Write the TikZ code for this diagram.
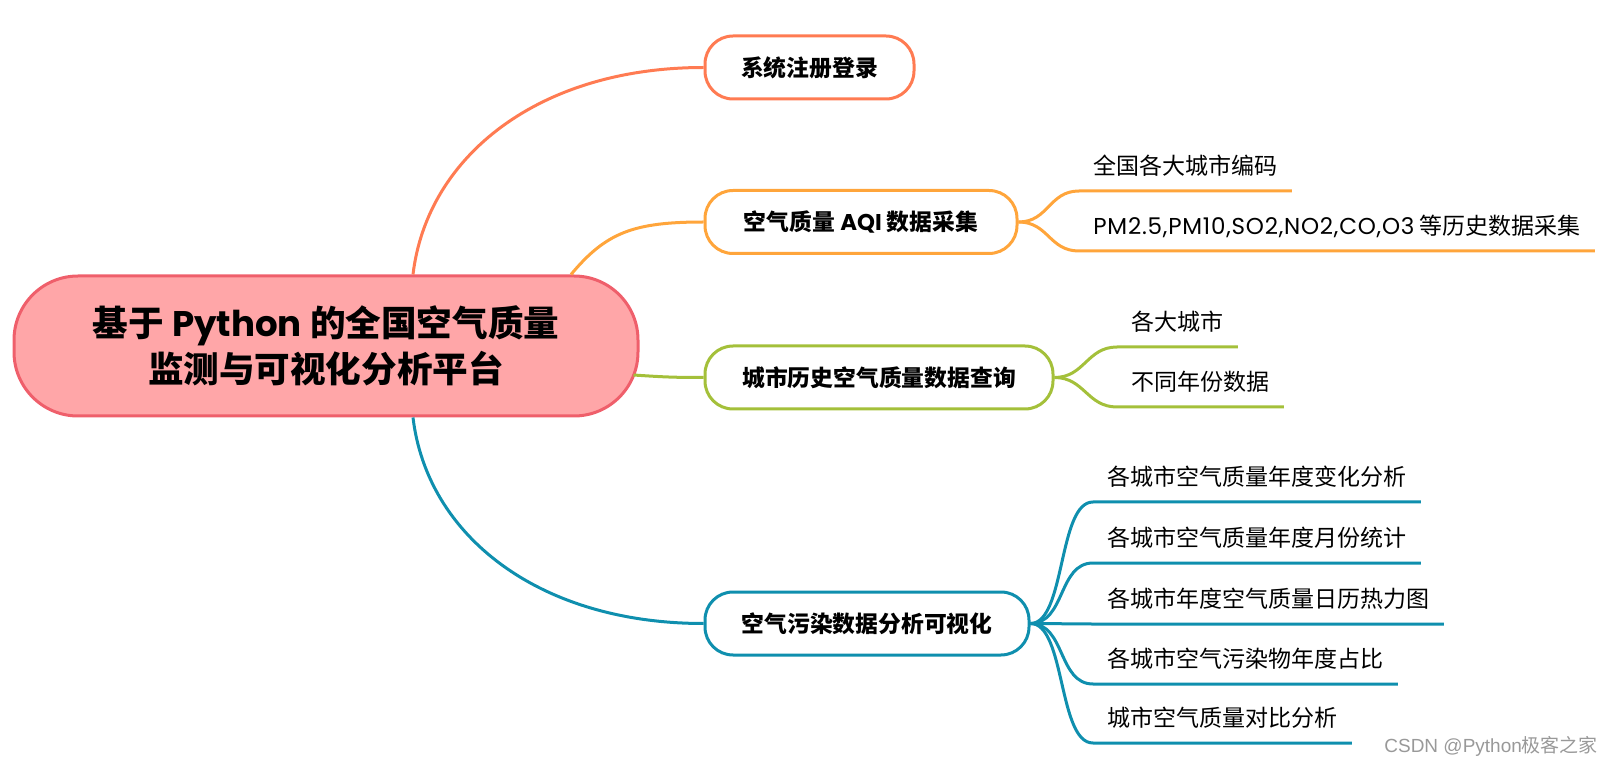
\documentclass[tikz,border=0pt]{standalone}
\usepackage{fontspec}
\setmainfont{Noto Sans CJK SC}
\newfontfamily\marklatin{Liberation Sans}
\newfontfamily\latin{Poppins}
\newfontfamily\latinwide[LetterSpace=3.4]{Poppins}
\usetikzlibrary{calc}
\definecolor{RootFill}{HTML}{FFA6A8}
\definecolor{RootLine}{HTML}{EF5F6B}
\definecolor{LoginOrange}{HTML}{FF7B52}
\definecolor{AqiOrange}{HTML}{FFA53B}
\definecolor{QueryGreen}{HTML}{A4C03A}
\definecolor{VisTeal}{HTML}{0F8FAE}

\begin{document}
\begin{tikzpicture}[x=0.5pt,y=-0.5pt,
    branch/.style={draw,line width=1.5pt,rounded corners=14pt,fill=white,minimum height=31.5pt,font=\fontsize{11.4}{14}\selectfont\bfseries},
    leaf/.style={anchor=south west,inner xsep=7pt,inner ysep=0pt,minimum height=24.5pt,font=\fontsize{11.5}{14}\selectfont},
    link/.style={line width=1.5pt}]
    \useasboundingbox (0,0) rectangle (1619,770);
    \node[draw=RootLine,line width=1.5pt,fill=RootFill,rounded corners=32pt,minimum width=312pt,minimum height=70pt,align=center,font=\fontsize{17.8}{23.2}\selectfont\bfseries] (root) at (326,346) {基于 {\latin Python} 的全国空气质量\\监测与可视化分析平台};
    \node[branch,draw=LoginOrange,minimum width=104.5pt] (login) at (809.5,67.5) {系统注册登录};
    \node[branch,draw=AqiOrange,minimum width=156pt] (aqi) at (861,222) {空气质量 {\latin AQI} 数据采集};
    \node[branch,draw=QueryGreen,minimum width=174pt] (query) at (879,377.5) {城市历史空气质量数据查询};
    \node[branch,draw=VisTeal,minimum width=162pt] (vis) at (867,623.5) {空气污染数据分析可视化};
    % leaves
    \node[leaf] (aqi1) at (1079,191) {全国各大城市编码};
    \node[leaf] (aqi2) at (1079,251) {{\latinwide PM2.5,PM10,SO2,NO2,CO,O3} 等历史数据采集};
    \node[leaf] (query1) at (1117,347) {各大城市};
    \node[leaf] (query2) at (1117,407) {不同年份数据};
    \node[leaf] (vis1) at (1093,502) {各城市空气质量年度变化分析};
    \node[leaf] (vis2) at (1093,563) {各城市空气质量年度月份统计};
    \node[leaf] (vis3) at (1093,624) {各城市年度空气质量日历热力图};
    \node[leaf] (vis4) at (1093,684) {各城市空气污染物年度占比};
    \node[leaf] (vis5) at (1093,743) {城市空气质量对比分析};
    \draw[link,LoginOrange] ($(root.north)+(87,0)$) .. controls +(14,-118) and +(-165,0) .. (login.west);
    \draw[link,AqiOrange] ($(root.north)+(245,0)$) .. controls +(35,-42) and +(-70,0) .. (aqi.west);
    \draw[link,QueryGreen] ($(root.east)+(-6,29)$) .. controls +(30,2) and +(-30,0) .. (query.west);
    \draw[link,VisTeal] ($(root.south)+(87,0)$) .. controls +(14,118) and +(-165,0) .. (vis.west);
    \draw[link,AqiOrange] (aqi.east) .. controls +(30,0) and +(-30,0) .. (aqi1.south west) -- (aqi1.south east);
    \draw[link,AqiOrange] (aqi.east) .. controls +(30,0) and +(-30,0) .. (aqi2.south west) -- (aqi2.south east);
    \draw[link,QueryGreen] (query.east) .. controls +(30,0) and +(-30,0) .. (query1.south west) -- (query1.south east);
    \draw[link,QueryGreen] (query.east) .. controls +(30,0) and +(-30,0) .. (query2.south west) -- (query2.south east);
    \foreach \i in {1,...,5}
      \draw[link,VisTeal] (vis.east) .. controls +(35,0) and +(-35,0) .. (vis\i.south west) -- (vis\i.south east);
    \node[anchor=east,text=black!40,font=\fontsize{9.5}{11}\selectfont] (mark) at (1605,746) {{\marklatin CSDN @Python}极客之家};
\end{tikzpicture}
\end{document}
